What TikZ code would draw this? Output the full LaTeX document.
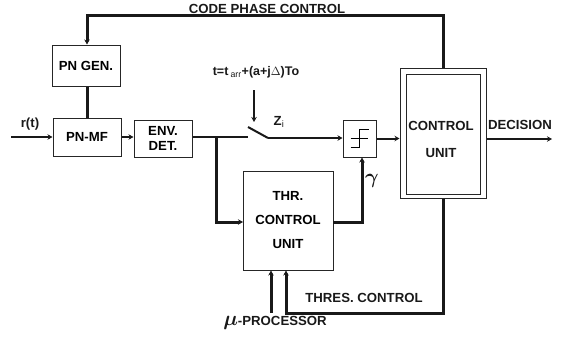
\documentclass[tikz,border=0pt]{standalone}
\usepackage{fontspec}
\setmainfont{Liberation Sans}
\usepackage{tikz}
\usetikzlibrary{arrows.meta}
\tikzset{
  block/.style={draw=black!85, fill=white, line width=1pt, font=\fontsize{13.2}{15}\selectfont\bfseries, align=center, inner sep=0pt},
  wire/.style={line width=3pt, black!90},
  thin wire/.style={line width=2pt, black!90},
  flow/.style={-{Stealth[length=5pt,width=5.5pt]}},
  tag/.style={font=\fontsize{13.2}{14}\selectfont\bfseries, black!90, inner sep=0pt}
}
\begin{document}
\begin{tikzpicture}[x=1pt, y=-1pt]
  \useasboundingbox (0,0) rectangle (562,340);
  % receiver chain
  \node[block, minimum width=68pt, minimum height=41pt] (pngen) at (86,65.5) {PN GEN.};
  \node[block, minimum width=68pt, minimum height=38pt] (pnmf) at (87,137) {PN-MF};
  \node[block, minimum width=58pt, minimum height=37pt] (envdet) at (163,138.5) {ENV.\\DET.};
  \node[block, minimum width=33pt, minimum height=37pt] (limiter) at (359.5,138.5) {};
  \node[block, minimum width=90pt, minimum height=99pt] (thr) at (288,220.5)
    {THR.\\[9pt]CONTROL\\[9pt]UNIT};
  % control unit: two frames, the text sits a bit low
  \node[block, minimum width=86pt, minimum height=130pt] (cuouter) at (443,133) {};
  \node[block, minimum width=74pt, minimum height=120pt] (cuinner) at (443,134) {};
  \node[tag, align=center] (cutext) at (441,139) {CONTROL\\[13pt]UNIT};

  % free ends
  \coordinate (rin) at (11,137);
  \coordinate (swleft) at (248,137);
  \coordinate (swtip) at (248,127);
  \coordinate (swright) at (268,138);
  \coordinate (swctl) at (254,90);
  \coordinate (swctlend) at (254,122);
  \coordinate (tap) at (216,137);
  \coordinate (thrin) at (243,222);
  \coordinate (throut) at (333,222);
  \coordinate (decout) at (552,139);
  \coordinate (muin) at (271,313);

  % limiter symbol
  \draw[line width=1.4pt] ([xshift=-9pt]limiter.center) -- ([xshift=8pt]limiter.center)
    ([xshift=-9pt,yshift=-9pt]limiter.center) -- ([xshift=0pt,yshift=-9pt]limiter.center)
    -- ([xshift=0pt,yshift=9pt]limiter.center) -- ([xshift=9pt,yshift=9pt]limiter.center);

  \draw[thin wire, flow] (rin) -- (pnmf.west);
  \draw[wire] (pnmf.north |- pngen.south) -- (pnmf.north);
  \draw[thin wire, flow] (pnmf.east) -- (envdet.west |- pnmf.east);
  \draw[thin wire] (envdet.east |- swleft) -- (swleft);
  \draw[thin wire] (swtip) -- (swright);
  \draw[thin wire, flow] (swright) -- (limiter.west |- swright);
  \draw[thin wire, flow] (swctl) -- (swctlend);
  \draw[wire, flow] (tap) |- (thrin);
  \draw[wire, flow] (throut) -| (limiter.south -| 362,0);
  \draw[thin wire, flow] (limiter.east) -- (cuouter.west |- limiter.east);
  \draw[thin wire, flow] (cuouter.east |- decout) -- (decout);
  % feedback paths
  \draw[wire, flow] (cuouter.north) -- (443,15) -- (87,15) -- (pngen.north -| 87,0);
  \draw[wire, flow] (cuouter.south) -- (443,313) -- (286,313) -- (thr.south -| 286,0);
  \draw[wire, flow] (muin) -- (thr.south -| muin);

  \node[tag] (lblr) at (30,124) {r(t)};
  \node[tag] (lblcode) at (267,9) {CODE PHASE CONTROL};
  \node[tag, font=\fontsize{12.5}{14}\selectfont\bfseries] (lbltime) at (256,72)
    {t=t\,$_{\mathrm{arr}}$+(a+j$\Delta$)To};
  \node[tag] (lblz) at (279,122) {Z$_{\mathrm{i}}$};
  \node[tag, font=\fontsize{22}{24}\selectfont\boldmath] (lblgamma) at (372,181) {$\gamma$};
  \node[tag] (lbldec) at (520,125) {DECISION};
  \node[tag] (lblthres) at (364,298) {THRES. CONTROL};
  \node[tag] (lblmu) at (275,323) {{\fontsize{22}{24}\selectfont\boldmath$\mu$}-PROCESSOR};
\end{tikzpicture}
\end{document}
